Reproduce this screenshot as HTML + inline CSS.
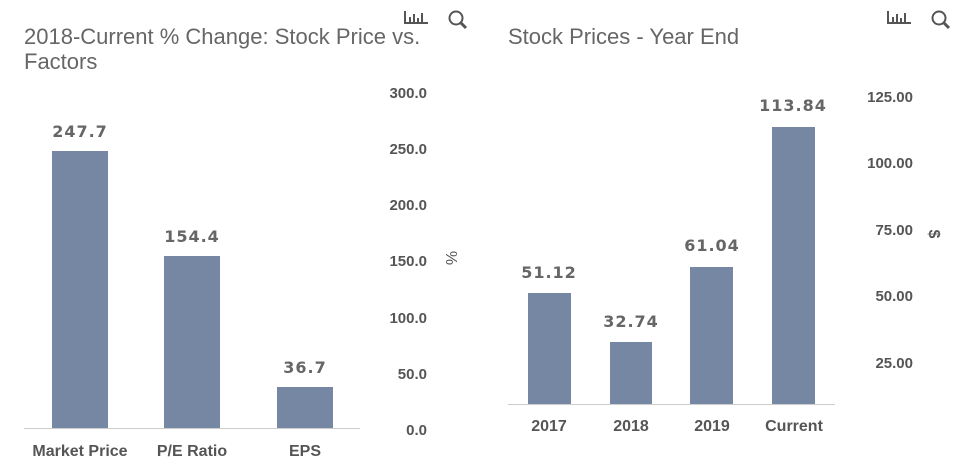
<!DOCTYPE html>
<html><head><meta charset="utf-8"><style>
body{margin:0;background:#fff;width:958px;height:464px;overflow:hidden;font-family:"Liberation Sans",sans-serif}
</style></head><body>
<svg width="958" height="464" xmlns="http://www.w3.org/2000/svg" font-family="Liberation Sans, sans-serif">
<g fill="#666" font-size="22">
<text x="24" y="44">2018-Current % Change: Stock Price vs.</text>
<text x="24" y="69">Factors</text>
<text x="508" y="44">Stock Prices - Year End</text>
</g>
<g stroke="#555" stroke-width="2" fill="none">
<path d="M405 11v12h23M410 22v-5M414 22v-8M418 22v-4M422 22v-9"/>
<circle cx="456" cy="18" r="6.5"/><path d="M461 23l5 5" stroke-width="3"/>
<path d="M888 11v12h23M893 22v-5M897 22v-8M901 22v-4M905 22v-9"/>
<circle cx="939" cy="18" r="6.5"/><path d="M944 23l5 5" stroke-width="3"/>
</g>
<g fill="#7587a3">
<rect x="52" y="151" width="56" height="277"/>
<rect x="164" y="256" width="56" height="172"/>
<rect x="277" y="387" width="56" height="41"/>
</g>
<line x1="24" y1="428.5" x2="360" y2="428.5" stroke="#ccc"/>
<g fill="#555" font-size="15" font-weight="bold" text-anchor="end">
<text x="427" y="98">300.0</text><text x="427" y="154">250.0</text><text x="427" y="210">200.0</text>
<text x="427" y="266">150.0</text><text x="427" y="323">100.0</text><text x="427" y="379">50.0</text>
<text x="427" y="435">0.0</text>
</g>
<text transform="translate(446,258) rotate(90)" fill="#555" font-size="16" text-anchor="middle">%</text>
<g fill="#666" font-size="16" font-weight="bold" text-anchor="middle" font-family="DejaVu Sans, sans-serif" letter-spacing="1">
<text x="80" y="137">247.7</text><text x="192" y="242">154.4</text><text x="305" y="373">36.7</text>
<text x="549" y="278">51.12</text><text x="631" y="327">32.74</text><text x="712" y="251">61.04</text><text x="793" y="111">113.84</text>
</g>
<g fill="#555" font-size="16" font-weight="bold" text-anchor="middle">
<text x="80" y="456">Market Price</text><text x="192" y="456">P/E Ratio</text><text x="305" y="456">EPS</text>
<text x="549" y="431">2017</text><text x="631" y="431">2018</text><text x="712" y="431">2019</text><text x="794" y="431">Current</text>
</g>
<g fill="#7587a3">
<rect x="528" y="293" width="43" height="111"/>
<rect x="610" y="342" width="42" height="62"/>
<rect x="690" y="267" width="43" height="137"/>
<rect x="772" y="127" width="43" height="277"/>
</g>
<line x1="508" y1="404.5" x2="835" y2="404.5" stroke="#ccc"/>
<g fill="#555" font-size="15" font-weight="bold" text-anchor="end">
<text x="913" y="102">125.00</text><text x="913" y="168">100.00</text><text x="913" y="235">75.00</text>
<text x="913" y="301">50.00</text><text x="913" y="368">25.00</text>
</g>
<text transform="translate(929,234) rotate(90)" fill="#555" font-size="16" font-weight="bold" text-anchor="middle">$</text>
</svg>
</body></html>
